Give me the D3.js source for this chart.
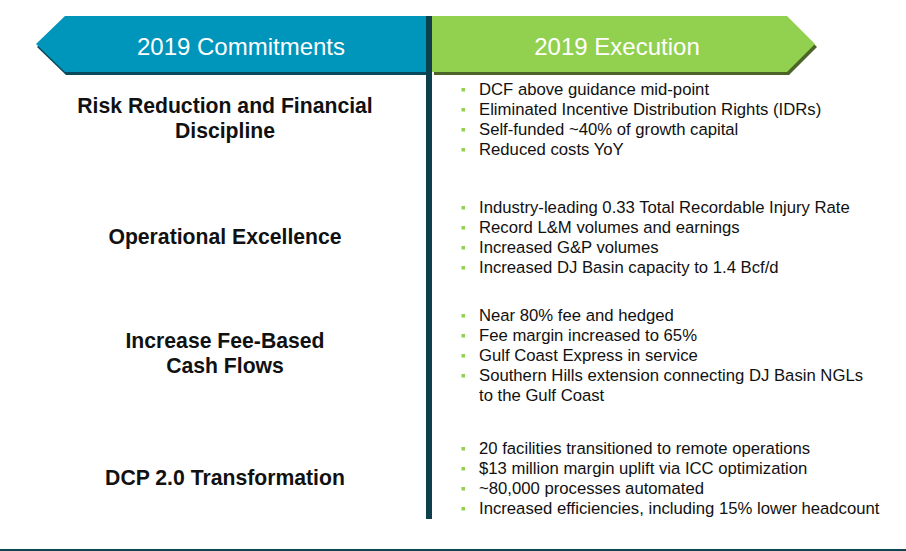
<!DOCTYPE html>
<html>
<head>
<meta charset="utf-8">
<script src="https://cdn.jsdelivr.net/npm/d3@7"></script>
<style>
  body { margin: 0; background: #fff; }
  svg { display: block; font-family: "Liberation Sans", Arial, sans-serif; }
</style>
</head>
<body>
<div id="slide"></div>
<script>
// header labels
var headers = ["2019 Commitments", "2019 Execution"];

// left column: commitment titles (one entry per line)
var commitments = [
    ["Risk Reduction and Financial", "Discipline"],
    ["Operational Excellence"],
    ["Increase Fee-Based", "Cash Flows"],
    ["DCP 2.0 Transformation"]
];

// right column: execution bullets; null marks a wrapped continuation line
var execution = [
    ["DCF above guidance mid-point",
     "Eliminated Incentive Distribution Rights (IDRs)",
     "Self-funded ~40% of growth capital",
     "Reduced costs YoY"],
    ["Industry-leading 0.33 Total Recordable Injury Rate",
     "Record L&M volumes and earnings",
     "Increased G&P volumes",
     "Increased DJ Basin capacity to 1.4 Bcf/d"],
    ["Near 80% fee and hedged",
     "Fee margin increased to 65%",
     "Gulf Coast Express in service",
     "Southern Hills extension connecting DJ Basin NGLs",
     null],
    ["20 facilities transitioned to remote operations",
     "$13 million margin uplift via ICC optimization",
     "~80,000 processes automated",
     "Increased efficiencies, including 15% lower headcount"]
];
var wrapped = ["", "", "to the Gulf Coast", ""];

var W = 906, H = 551;
var svg = d3.select("#slide").append("svg")
    .attr("width", W)
    .attr("height", H);

// layout
var bannerTop = 16, bannerBot = 72, divX = 426, divW = 6;
var rowTop = [95, 213, 321, 454];       // first bullet baseline per row
var titleMid = [125.5, 244, 360.5, 485]; // vertical centre baseline of titles
var lineStep = d3.scaleLinear().domain([0, 1]).range([0, 20]);
var titleStep = d3.scaleLinear().domain([0, 1]).range([0, 25]);

/* banners */
var line = d3.line();
var leftPts = [[65, bannerTop], [divX, bannerTop], [divX, bannerBot], [65, bannerBot], [36, 44]];
var rightPts = [[divX + divW, bannerTop], [787, bannerTop], [815, 44], [787, bannerBot], [divX + divW, bannerBot]];

var banners = svg.append("g").classed("banners", true);
banners.append("path")
    .attr("d", line(leftPts) + "Z")
    .attr("transform", "translate(1,3)")
    .attr("fill", "#0b4a5c");
banners.append("path")
    .attr("d", line(rightPts) + "Z")
    .attr("transform", "translate(2,3)")
    .attr("fill", "#4d6428");
banners.append("path")
    .attr("d", line(leftPts) + "Z")
    .attr("fill", "#0095ba");
banners.append("path")
    .attr("d", line(rightPts) + "Z")
    .attr("fill", "#92d050");

banners.selectAll("text")
    .data(headers)
    .enter()
    .append("text")
    .attr("x", function (d, i) { return i === 0 ? 241 : 617; })
    .attr("y", 55)
    .attr("text-anchor", "middle")
    .attr("fill", "#fff")
    .style("font-size", "24px")
    .text(function (d) { return d; });

// divider
svg.append("rect")
    .attr("x", divX)
    .attr("y", bannerTop)
    .attr("width", divW)
    .attr("height", 519 - bannerTop)
    .attr("fill", "#0d3f4c");

// bottom rule
svg.append("rect")
    .attr("x", 0)
    .attr("y", 549)
    .attr("width", W)
    .attr("height", 2)
    .attr("fill", "#0d4650");

/* left titles */
var titles = svg.append("g").classed("titles", true)
    .selectAll("text")
    .data(commitments)
    .enter()
    .append("text")
    .attr("text-anchor", "middle")
    .attr("fill", "#111")
    .style("font-size", "21.2px")
    .style("font-weight", "bold");

titles.selectAll("tspan")
    .data(function (d, i) {
        return d.map(function (t, j) {
            return {text: t, y: titleMid[i] - titleStep((d.length - 1) / 2) + titleStep(j)};
        });
    })
    .enter()
    .append("tspan")
    .attr("x", 225)
    .attr("y", function (d) { return d.y; })
    .text(function (d) { return d.text; });

/* right bullets */
var groups = svg.append("g").classed("bullets", true)
    .selectAll("g")
    .data(execution)
    .enter()
    .append("g");

var items = groups.selectAll("g")
    .data(function (d, i) {
        return d.map(function (t, j) {
            return {text: t === null ? wrapped[i] : t, bullet: t !== null, y: rowTop[i] + lineStep(j)};
        });
    })
    .enter()
    .append("g");

items.filter(function (d) { return d.bullet; })
    .append("rect")
    .attr("x", 461.5)
    .attr("y", function (d) { return d.y - 7; })
    .attr("width", 3.5)
    .attr("height", 3.5)
    .attr("fill", "#92d050");

items.append("text")
    .attr("x", 479)
    .attr("y", function (d) { return d.y; })
    .attr("fill", "#111")
    .style("font-size", "16.7px")
    .text(function (d) { return d.text; });
</script>
</body>
</html>
